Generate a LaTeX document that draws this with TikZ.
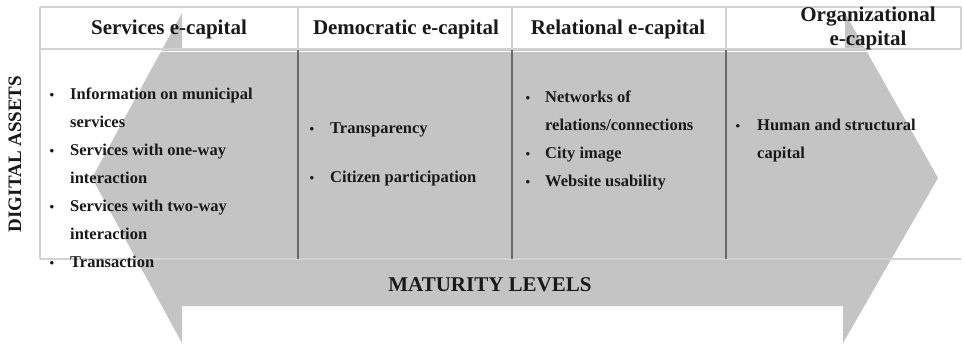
\documentclass[tikz,border=0pt]{standalone}
\usepackage{fontspec}
\setmainfont{Liberation Serif}
\begin{document}
\definecolor{arrowgray}{RGB}{196,196,196}
\definecolor{rulegray}{RGB}{210,210,210}
\definecolor{sepgray}{RGB}{105,105,105}
\definecolor{inkblack}{RGB}{25,25,25}
\tikzset{
  hdr/.style={font=\bfseries\fontsize{21}{22}\selectfont, text=inkblack, inner sep=0pt, anchor=base},
  item/.style={font=\bfseries\fontsize{16.5}{18}\selectfont, text=inkblack, inner sep=0pt, anchor=base west},
  dot/.style={font=\bfseries\fontsize{13}{14}\selectfont, text=inkblack, inner sep=0pt, anchor=base},
  axis/.style={font=\bfseries\fontsize{19}{21}\selectfont, text=inkblack, inner sep=0pt},
  cellrule/.style={draw=rulegray, line width=1.6pt},
  colsep/.style={draw=sepgray, line width=1.2pt}
}
\begin{tikzpicture}[x=1pt,y=-1pt]
\useasboundingbox (0,0) rectangle (964,346);
\fill[white] (0,0) rectangle (964,346);

% double-headed arrow behind the table
\fill[arrowgray] (182,49) -- (182,13) -- (92,178) -- (182,343) -- (182,306)
  -- (843,306) -- (843,343) -- (938,178) -- (845,13) -- (845,49) -- cycle;

% table grid
\coordinate (tl) at (40,7);
\coordinate (tr) at (961,7);
\coordinate (hl) at (40,49);
\coordinate (hr) at (961,49);
\coordinate (bl) at (40,259);
\coordinate (br) at (961,259);
\draw[cellrule] (tl) -- (tr);
\draw[cellrule] (hl) -- (hr);
\draw[draw=white, line width=1pt] (40,51) -- (961,51);
\draw[cellrule] (bl) -- (br);
\draw[cellrule] (tl) -- (bl);
\draw[cellrule] (tr) -- (hr);
\foreach \x in {298,512,726}{
  \draw[cellrule] (\x,7) -- (\x,49);
  \draw[colsep] (\x,50) -- (\x,259);
}

% column headings
\node[hdr] (h1) at (169,34) {Services e-capital};
\node[hdr] (h2) at (406,34) {Democratic e-capital};
\node[hdr] (h3) at (618,34) {Relational e-capital};
\node[hdr] (h4a) at (868,21) {Organizational};
\node[hdr] (h4b) at (868,45) {e-capital};

% services e-capital items
\node[dot] (b11) at (52,99) {•};
\node[item] (t11) at (70,99) {Information on municipal};
\node[item] (t12) at (70,127) {services};
\node[dot] (b12) at (52,155) {•};
\node[item] (t13) at (70,155) {Services with one-way};
\node[item] (t14) at (70,183) {interaction};
\node[dot] (b13) at (52,211) {•};
\node[item] (t15) at (70,211) {Services with two-way};
\node[item] (t16) at (70,239) {interaction};
\node[dot] (b14) at (52,267) {•};
\node[item] (t17) at (70,267) {Transaction};

% democratic e-capital items
\node[dot] (b21) at (312,133) {•};
\node[item] (t21) at (330,133) {Transparency};
\node[dot] (b22) at (312,182) {•};
\node[item] (t22) at (330,182) {Citizen participation};

% relational e-capital items
\node[dot] (b31) at (528,102) {•};
\node[item] (t31) at (545,102) {Networks of};
\node[item] (t32) at (545,130) {relations/connections};
\node[dot] (b32) at (528,158) {•};
\node[item] (t33) at (545,158) {City image};
\node[dot] (b33) at (528,186) {•};
\node[item] (t34) at (545,186) {Website usability};

% organizational e-capital items
\node[dot] (b41) at (738,130) {•};
\node[item] (t41) at (757,130) {Human and structural};
\node[item] (t42) at (757,158) {capital};

% axis labels
\node[axis, rotate=90] (assets) at (15,154) {DIGITAL ASSETS};
\node[axis, anchor=base, font=\bfseries\fontsize{21}{23}\selectfont] (levels) at (490,291) {MATURITY LEVELS};
\end{tikzpicture}
\end{document}
